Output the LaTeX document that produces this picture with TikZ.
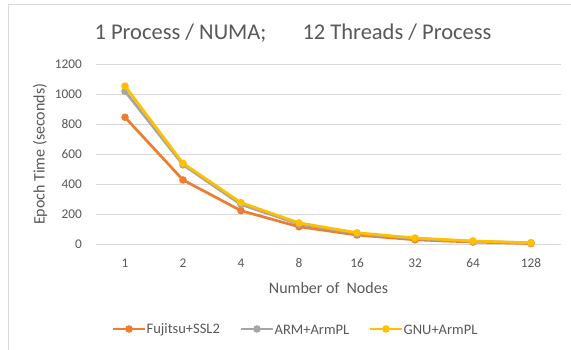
\documentclass[tikz,border=0pt]{standalone}
\usepackage{fontspec}
\setmainfont{Carlito}
\definecolor{txt}{HTML}{595959}
\definecolor{grid}{HTML}{D9D9D9}
\definecolor{frame}{HTML}{D9D9D9}
\definecolor{cfuj}{HTML}{ED7D31}
\definecolor{carm}{HTML}{A5A5A5}
\definecolor{cgnu}{HTML}{FFC000}
\begin{document}
\begin{tikzpicture}[x=1pt,y=-1pt,
  gridline/.style={grid,line width=0.9pt},
  ticklab/.style={text=txt,font=\fontsize{13.3}{15}\selectfont,inner sep=0pt},
  series/.style={line width=2.7pt,line join=round,line cap=round},
  legtext/.style={text=txt,font=\fontsize{14.5}{16}\selectfont,inner sep=0pt,anchor=west}]
\useasboundingbox (0,0) rectangle (571,350);
\fill[white] (0,0) rectangle (571,350);
\draw[frame,line width=1pt] (8.5,350) -- (8.5,5) -- (571,5);
% title
\node[text=txt,font=\fontsize{22.5}{26}\selectfont,inner sep=0pt,anchor=base] (title) at (293,40) {1 Process / NUMA;\hspace{1.6em}12 Threads / Process};
% grid and y labels
\foreach \v in {0,200,...,1200}{
  \pgfmathsetmacro{\yy}{244.3-0.15*\v}
  \draw[gridline] (96,\yy) -- (561,\yy);
  \node[ticklab,anchor=east] at (82,\yy) {\v};
}
% x labels
\foreach \lab [count=\i from 0] in {1,2,4,8,16,32,64,128}{
  \node[ticklab] at (125+58*\i,263) {\lab};
}
\node[text=txt,font=\fontsize{16}{18}\selectfont,inner sep=0pt] (xt) at (328.5,288) {Number of\ \ Nodes};
\node[text=txt,font=\fontsize{16}{18}\selectfont,inner sep=0pt,rotate=90] (yt) at (40,154.3) {Epoch Time (seconds)};
% series
\foreach \col/\vals in {cfuj/{847,429,224,117,62,30,15,5},carm/{1020,530,265,135,72,38,20,10},cgnu/{1055,540,278,143,77,42,22,10}}{
  \draw[series,\col] \foreach \v [count=\i from 0] in \vals {
    \ifnum\i=0 (125+58*\i,244.3-0.15*\v) \else -- (125+58*\i,244.3-0.15*\v)\fi};
  \foreach \v [count=\i from 0] in \vals {
    \fill[\col] (125+58*\i,244.3-0.15*\v) circle (3.8);
  }
}
% legend
\foreach \col/\x/\lab in {cfuj/113/Fujitsu+SSL2,carm/241/ARM+ArmPL,cgnu/370/GNU+ArmPL}{
  \draw[\col,line width=2.7pt] (\x,329) -- (\x+32,329);
  \fill[\col] (\x+16,329) circle (3.8);
  \node[legtext] at (\x+33.5,329.5) {\lab};
}
\end{tikzpicture}
\end{document}
